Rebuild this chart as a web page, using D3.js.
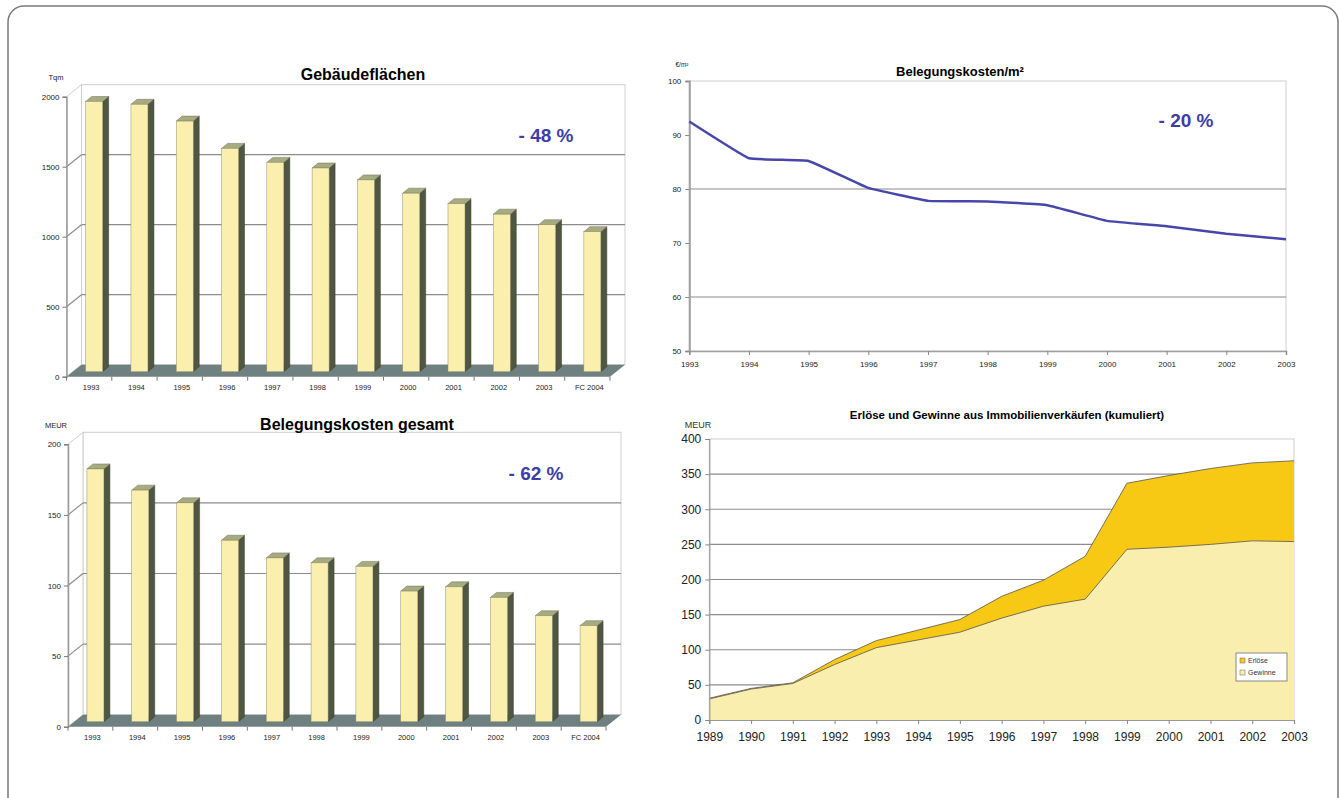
<!DOCTYPE html>
<html>
<head>
<meta charset="utf-8">
<script src="https://cdn.jsdelivr.net/npm/d3@7"></script>
<style>
    body { margin: 0; background: #fff; }
    svg { display: block; font-family: "Liberation Sans", Arial, sans-serif; }
</style>
</head>
<body>
<div id="chart"></div>
<script>

// ---- data ----
const barYears = ["1993", "1994", "1995", "1996", "1997", "1998", "1999", "2000", "2001", "2002", "2003", "FC 2004"];
const flaechenValues = [1930, 1910, 1790, 1595, 1495, 1455, 1370, 1275, 1200, 1125, 1050, 1000];
const kostenGesamtValues = [179, 164, 155, 128.5, 116, 112.5, 110, 92.5, 95.5, 88, 75, 68];

const qmYears = [1993, 1994, 1995, 1996, 1997, 1998, 1999, 2000, 2001, 2002, 2003];
const qmValues = [92.5, 85.7, 85.2, 80.2, 77.8, 77.7, 77.0, 74.1, 73.1, 71.7, 70.7];

const areaYears = [1989, 1990, 1991, 1992, 1993, 1994, 1995, 1996, 1997, 1998, 1999, 2000, 2001, 2002, 2003];
const erloeseValues = [31, 45, 53, 86, 113, 128, 143, 176, 199, 233, 337, 348, 358, 366, 369];
const gewinneValues = [30, 44, 52, 79, 103, 114, 125, 145, 162, 172, 243, 246, 250, 255, 254];

const flaechenTicks = [0, 500, 1000, 1500, 2000];
const kostenTicks = [0, 50, 100, 150, 200];
const qmTicks = [50, 60, 70, 80, 90, 100];
const qmGrid = [60, 80];
const areaTicks = [0, 50, 100, 150, 200, 250, 300, 350, 400];

const seriesNames = ["Erlöse", "Gewinne"];

// ---- colours ----
const barFront = "#faefac", barSide = "#4f5642", barTop = "#a7ab80", floorColor = "#6e8080";
const pctColor = "#3c40a4";
const gridColor = "#8c8c8c", wallColor = "#cfcfcf";
const erloeseColor = "#f7c814", gewinneColor = "#f9eead";

let svg = d3.select("#chart").append("svg")
    .attr("width", 1339)
    .attr("height", 798);

// outer rounded frame
svg.append("rect")
    .attr("x", 8).attr("y", 6)
    .attr("width", 1330).attr("height", 812)
    .attr("rx", 16)
    .attr("fill", "none")
    .attr("stroke", "#7a7a7a")
    .attr("stroke-width", 1.5);

// 3D-looking column chart (Excel style)
function drawBar3D(cfg) {
    const DX = 15, DY = -12;      // depth of the wall
    const BX = 5, BY = -5;        // bar position inside the depth
    const SX = 6, SY = -5;        // bar depth
    const barW = 17;

    let g = svg.append("g");

    let x = d3.scaleBand().domain(cfg.labels).range([cfg.left, cfg.right]);
    let y = d3.scaleLinear().domain([0, cfg.max]).range([cfg.bottom, cfg.top]);

    // back wall
    g.append("rect")
        .attr("x", cfg.left + DX).attr("y", y(cfg.max) + DY)
        .attr("width", cfg.right - cfg.left).attr("height", y(0) - y(cfg.max))
        .attr("fill", "#fff").attr("stroke", wallColor);

    // side wall
    g.append("polygon")
        .attr("points", [[cfg.left, y(cfg.max)], [cfg.left + DX, y(cfg.max) + DY],
            [cfg.left + DX, y(0) + DY], [cfg.left, y(0)]].join(" "))
        .attr("fill", "#fff").attr("stroke", wallColor);

    // gridlines
    let grid = cfg.ticks.filter(d => d > 0 && d < cfg.max);
    g.selectAll(".grid-back").data(grid).enter().append("line")
        .attr("x1", cfg.left + DX).attr("x2", cfg.right + DX)
        .attr("y1", d => y(d) + DY).attr("y2", d => y(d) + DY)
        .attr("stroke", gridColor).attr("stroke-width", 1.2);
    g.selectAll(".grid-side").data(grid).enter().append("line")
        .attr("x1", cfg.left).attr("x2", cfg.left + DX)
        .attr("y1", d => y(d)).attr("y2", d => y(d) + DY)
        .attr("stroke", gridColor).attr("stroke-width", 1.2);

    // floor
    g.append("polygon")
        .attr("points", [[cfg.left, y(0)], [cfg.right, y(0)],
            [cfg.right + DX, y(0) + DY], [cfg.left + DX, y(0) + DY]].join(" "))
        .attr("fill", floorColor);

    // bars
    let bars = g.selectAll(".bar").data(cfg.values).enter().append("g");
    bars.each(function(d, i) {
        let bar = d3.select(this);
        let cx = x(cfg.labels[i]) + x.bandwidth() / 2 + BX;
        let x0 = cx - barW / 2, x1 = cx + barW / 2;
        let yt = y(d) + BY, yb = y(0) + BY;
        bar.append("polygon")
            .attr("points", [[x1, yt], [x1 + SX, yt + SY], [x1 + SX, yb + SY], [x1, yb]].join(" "))
            .attr("fill", barSide).attr("stroke", "#3a3f30").attr("stroke-width", 0.5);
        bar.append("polygon")
            .attr("points", [[x0, yt], [x1, yt], [x1 + SX, yt + SY], [x0 + SX, yt + SY]].join(" "))
            .attr("fill", barTop).attr("stroke", "#6d7058").attr("stroke-width", 0.5);
        bar.append("rect")
            .attr("x", x0).attr("y", yt)
            .attr("width", barW).attr("height", yb - yt)
            .attr("fill", barFront).attr("stroke", "#8f8f70").attr("stroke-width", 0.5);
    });

    // y axis
    let yAxis = d3.axisLeft(y).tickValues(cfg.ticks).tickFormat(d3.format("d"))
        .tickSize(4).tickPadding(3);
    let ya = g.append("g")
        .attr("transform", "translate(" + cfg.left + ",0)")
        .call(yAxis);
    ya.select(".domain").attr("stroke", "#999").attr("stroke-width", 1.5);
    ya.selectAll(".tick line").attr("stroke", "#777");
    ya.selectAll("text").style("font-size", "8px").attr("fill", "#222");

    // x axis tick marks + labels
    let xb = cfg.labels.map(l => x(l)).concat([cfg.right]);
    g.selectAll(".xtick").data(xb).enter().append("line")
        .attr("x1", d => d).attr("x2", d => d)
        .attr("y1", y(0)).attr("y2", y(0) + 4)
        .attr("stroke", "#777");
    g.selectAll(".xlabel").data(cfg.labels).enter().append("text")
        .attr("x", d => x(d) + x.bandwidth() / 2 + 2)
        .attr("y", y(0) + 13)
        .attr("text-anchor", "middle")
        .style("font-size", "7.5px")
        .attr("fill", "#222")
        .text(d => d);

    // unit, title, percentage
    g.append("text")
        .attr("x", cfg.unitX).attr("y", cfg.unitY)
        .attr("text-anchor", "middle")
        .style("font-size", "7.5px").attr("fill", "#222")
        .text(cfg.unit);
    g.append("text")
        .attr("x", cfg.titleX).attr("y", cfg.titleY)
        .attr("text-anchor", "middle")
        .style("font-size", "16px").style("font-weight", "bold")
        .text(cfg.title);
    g.append("text")
        .attr("x", cfg.pctX).attr("y", cfg.pctY)
        .attr("text-anchor", "middle")
        .style("font-size", "19px").style("font-weight", "bold")
        .attr("fill", pctColor)
        .text(cfg.pct);
}

drawBar3D({
    labels: barYears, values: flaechenValues, ticks: flaechenTicks, max: 2000,
    left: 66.5, right: 610, top: 96.7, bottom: 376.7,
    unit: "Tqm", unitX: 56, unitY: 80,
    title: "Gebäudeflächen", titleX: 363, titleY: 80,
    pct: "- 48 %", pctX: 546, pctY: 142
});

drawBar3D({
    labels: barYears, values: kostenGesamtValues, ticks: kostenTicks, max: 200,
    left: 68, right: 606, top: 444.3, bottom: 726.7,
    unit: "MEUR", unitX: 56, unitY: 428,
    title: "Belegungskosten gesamt", titleX: 357, titleY: 430,
    pct: "- 62 %", pctX: 536, pctY: 480
});

// ---- line chart: Belegungskosten/m² ----
(function() {
    let left = 689.3, right = 1286, top = 81, bottom = 351;
    let g = svg.append("g");

    let x = d3.scalePoint().domain(qmYears).range([left, right]);
    let y = d3.scaleLinear().domain([50, 100]).range([bottom, top]);

    g.append("rect")
        .attr("x", left).attr("y", top)
        .attr("width", right - left).attr("height", bottom - top)
        .attr("fill", "#fff").attr("stroke", wallColor);

    g.selectAll(".grid").data(qmGrid).enter().append("line")
        .attr("x1", left).attr("x2", right)
        .attr("y1", d => y(d)).attr("y2", d => y(d))
        .attr("stroke", gridColor).attr("stroke-width", 1.2);

    let ya = g.append("g")
        .attr("transform", "translate(" + left + ",0)")
        .call(d3.axisLeft(y).tickValues(qmTicks).tickSize(4).tickPadding(4));
    ya.select(".domain").attr("stroke", "#a0a0a0").attr("stroke-width", 2);
    ya.selectAll(".tick line").attr("stroke", "#888");
    ya.selectAll("text").style("font-size", "8px").attr("fill", "#222");

    let xa = g.append("g")
        .attr("transform", "translate(0," + bottom + ")")
        .call(d3.axisBottom(x).tickSize(4).tickPadding(6));
    xa.select(".domain").attr("stroke", "#a0a0a0").attr("stroke-width", 1.5);
    xa.selectAll(".tick line").attr("stroke", "#888");
    xa.selectAll("text").style("font-size", "8px").attr("fill", "#222");

    let line = d3.line()
        .curve(d3.curveCardinal.tension(0.75))
        .x((d, i) => x(qmYears[i]))
        .y(d => y(d));

    g.append("path")
        .attr("d", line(qmValues))
        .attr("fill", "none")
        .attr("stroke", "#4747aa")
        .attr("stroke-width", 2.5);

    g.append("text")
        .attr("x", 682).attr("y", 67)
        .attr("text-anchor", "middle")
        .style("font-size", "6.5px").attr("fill", "#222")
        .text("€/m²");
    g.append("text")
        .attr("x", 960).attr("y", 76)
        .attr("text-anchor", "middle")
        .style("font-size", "13px").style("font-weight", "bold")
        .text("Belegungskosten/m²");
    g.append("text")
        .attr("x", 1186).attr("y", 127)
        .attr("text-anchor", "middle")
        .style("font-size", "19px").style("font-weight", "bold")
        .attr("fill", pctColor)
        .text("- 20 %");
})();

// ---- area chart: Erlöse und Gewinne ----
(function() {
    let left = 709.3, right = 1294, top = 439, bottom = 720;
    let g = svg.append("g");

    let x = d3.scalePoint().domain(areaYears).range([left, right]);
    let y = d3.scaleLinear().domain([0, 400]).range([bottom, top]);

    g.append("rect")
        .attr("x", left).attr("y", top)
        .attr("width", right - left).attr("height", bottom - top)
        .attr("fill", "#fff").attr("stroke", wallColor);

    g.selectAll(".grid").data(areaTicks.filter(d => d > 0 && d < 400)).enter().append("line")
        .attr("x1", left).attr("x2", right)
        .attr("y1", d => y(d)).attr("y2", d => y(d))
        .attr("stroke", gridColor).attr("stroke-width", 1.2);

    let area = d3.area()
        .x((d, i) => x(areaYears[i]))
        .y0(y(0))
        .y1(d => y(d));
    let line = d3.line()
        .x((d, i) => x(areaYears[i]))
        .y(d => y(d));

    g.append("path").attr("d", area(erloeseValues)).attr("fill", erloeseColor);
    g.append("path").attr("d", line(erloeseValues))
        .attr("fill", "none").attr("stroke", "#555").attr("stroke-width", 0.8);
    g.append("path").attr("d", area(gewinneValues)).attr("fill", gewinneColor);
    g.append("path").attr("d", line(gewinneValues))
        .attr("fill", "none").attr("stroke", "#555").attr("stroke-width", 0.8);

    let ya = g.append("g")
        .attr("transform", "translate(" + left + ",0)")
        .call(d3.axisLeft(y).tickValues(areaTicks).tickSize(4).tickPadding(4));
    ya.select(".domain").attr("stroke", "#999").attr("stroke-width", 1.2);
    ya.selectAll(".tick line").attr("stroke", "#888");
    ya.selectAll("text").style("font-size", "12px").attr("fill", "#222");

    let xa = g.append("g")
        .attr("transform", "translate(0," + bottom + ")")
        .call(d3.axisBottom(x).tickSize(4).tickPadding(8));
    xa.select(".domain").attr("stroke", "#999").attr("stroke-width", 1.2);
    xa.selectAll(".tick line").attr("stroke", "#888");
    xa.selectAll("text").style("font-size", "12px").attr("fill", "#222");

    // legend
    let legend = g.append("g").attr("transform", "translate(1236,653)");
    legend.append("rect")
        .attr("width", 51).attr("height", 28)
        .attr("fill", "#fff").attr("stroke", "#888");
    legend.selectAll(".sw").data(seriesNames).enter().append("rect")
        .attr("x", 4).attr("y", (d, i) => 5 + i * 12)
        .attr("width", 5).attr("height", 5)
        .attr("fill", (d, i) => i === 0 ? erloeseColor : gewinneColor)
        .attr("stroke", "#666").attr("stroke-width", 0.5);
    legend.selectAll(".lt").data(seriesNames).enter().append("text")
        .attr("x", 12).attr("y", (d, i) => 10 + i * 12)
        .style("font-size", "7px").attr("fill", "#333")
        .text(d => d);

    g.append("text")
        .attr("x", 698).attr("y", 428)
        .attr("text-anchor", "middle")
        .style("font-size", "9px").attr("fill", "#333")
        .text("MEUR");
    g.append("text")
        .attr("x", 1007).attr("y", 419)
        .attr("text-anchor", "middle")
        .style("font-size", "11.5px").style("font-weight", "bold")
        .text("Erlöse und Gewinne aus Immobilienverkäufen (kumuliert)");
})();

</script>
</body>
</html>
